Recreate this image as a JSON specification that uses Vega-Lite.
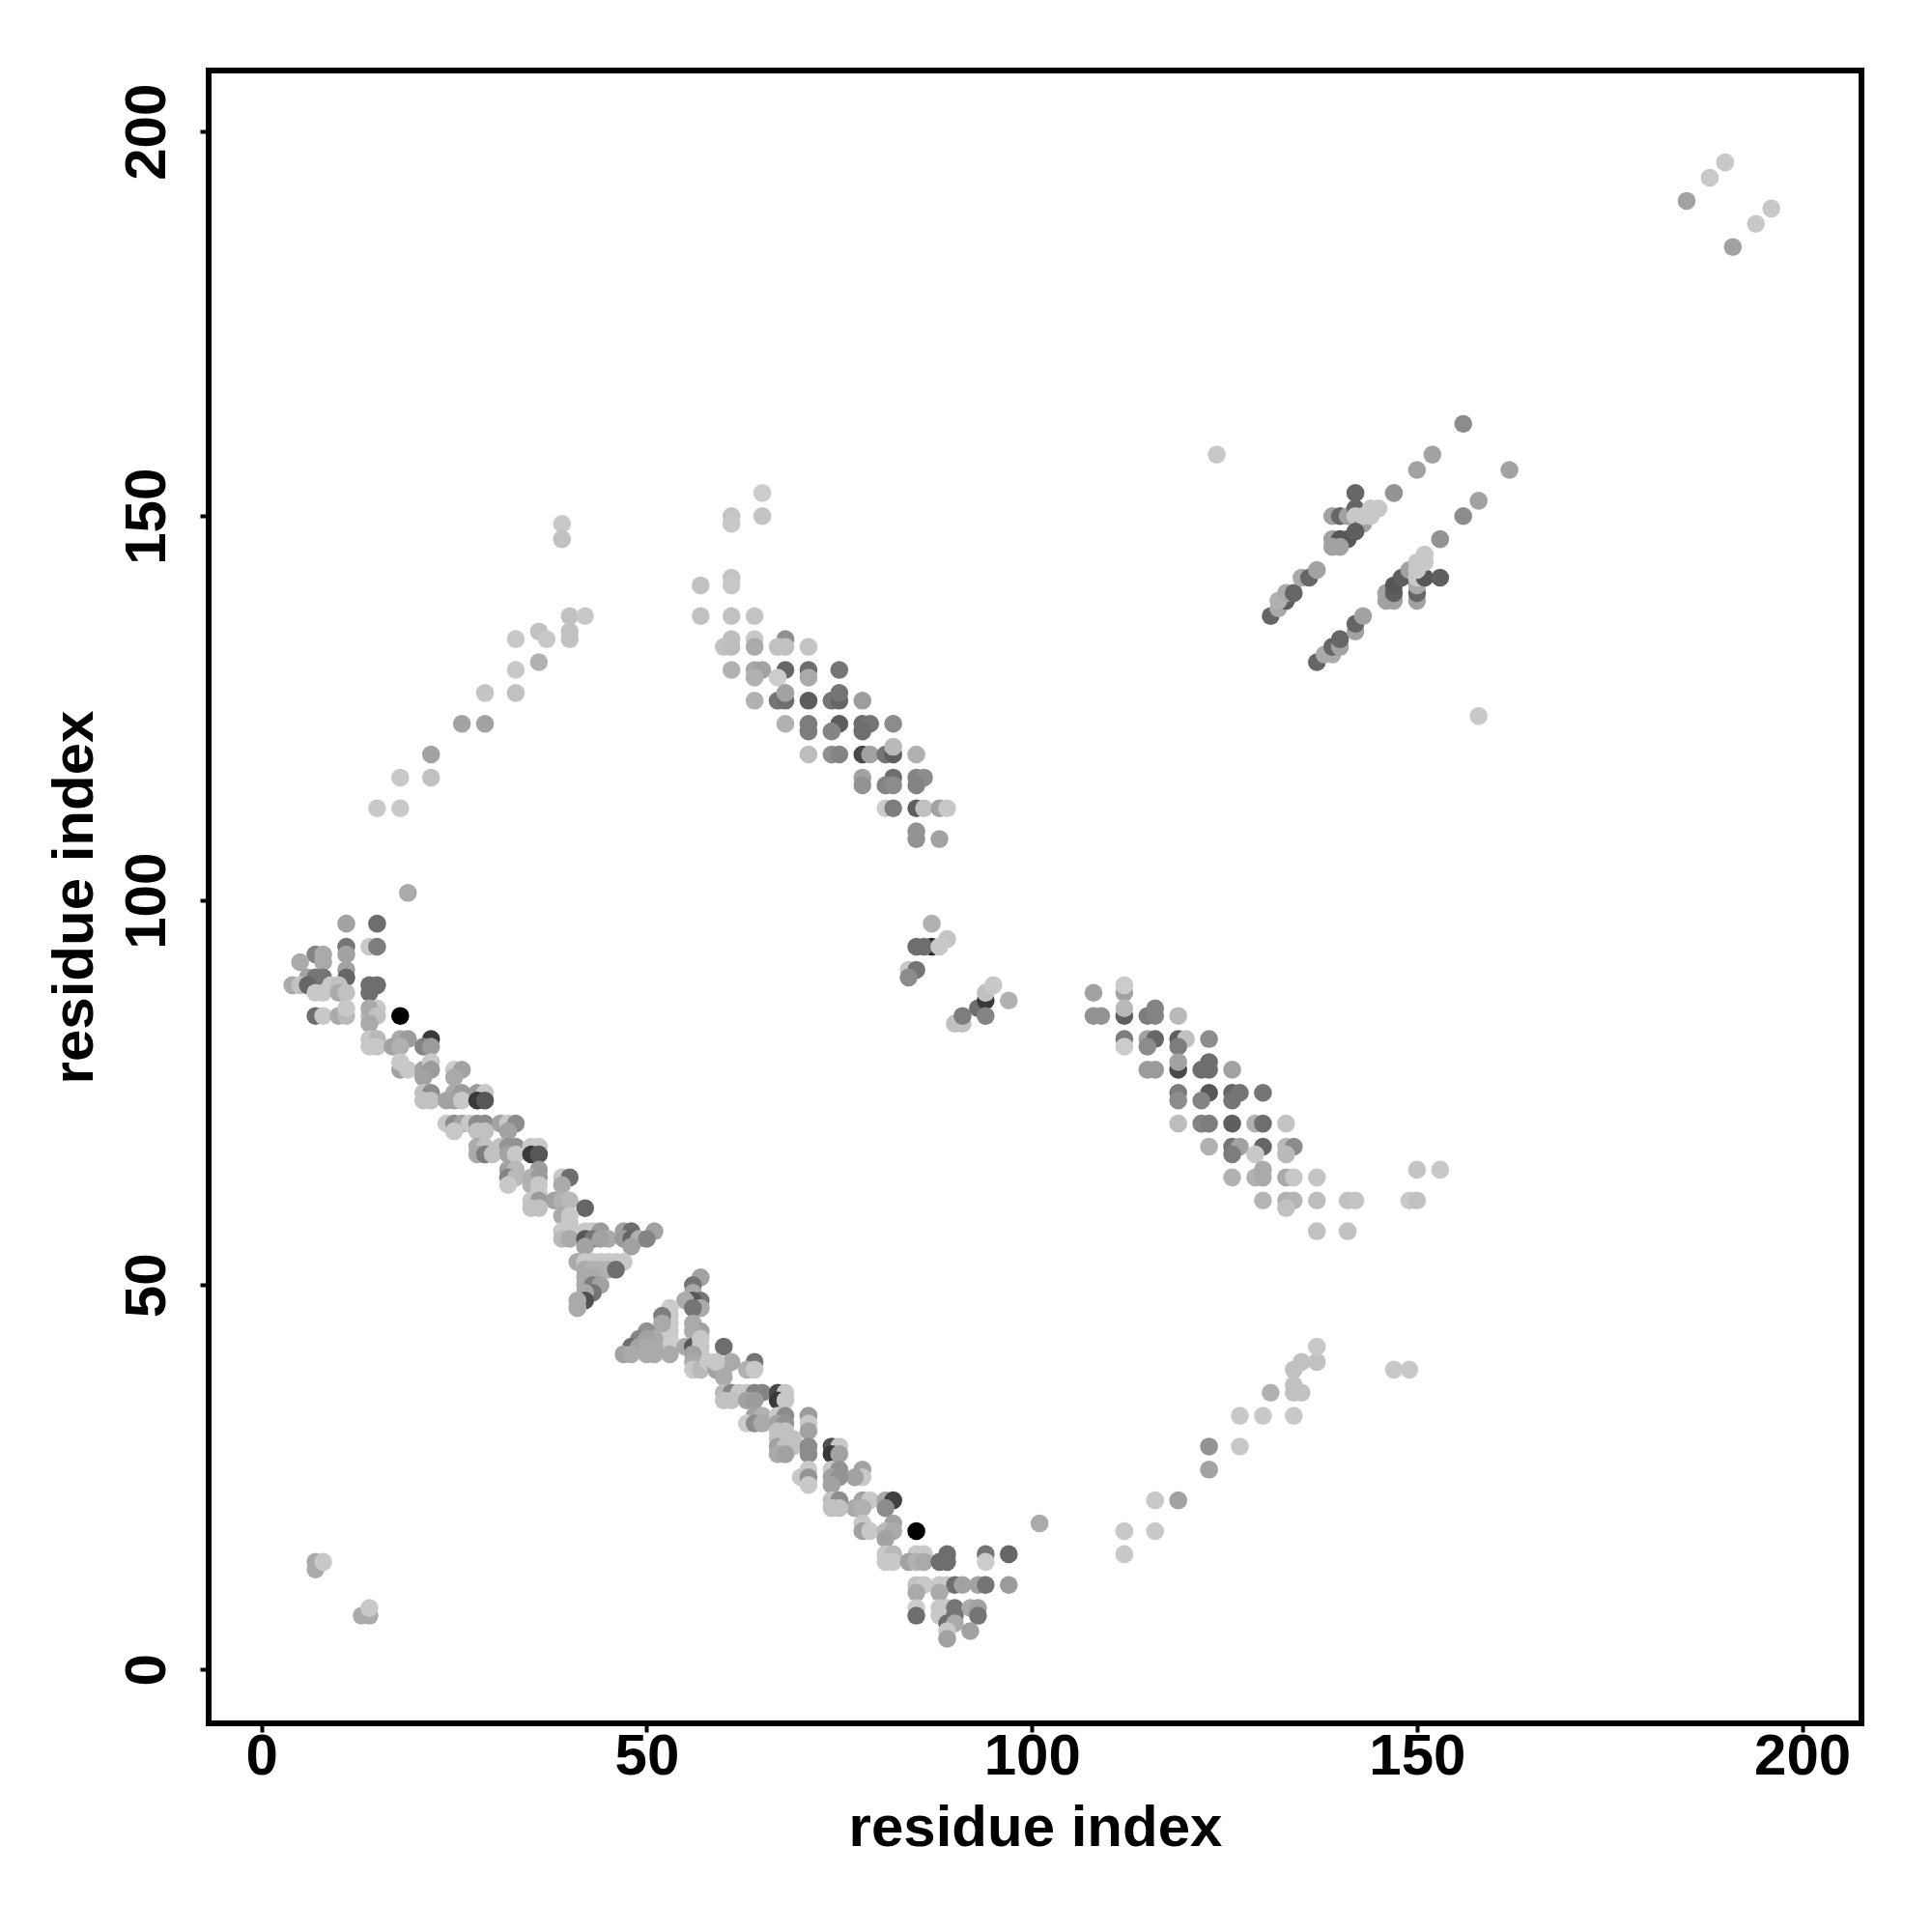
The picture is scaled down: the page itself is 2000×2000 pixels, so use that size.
{"$schema":"https://vega.github.io/schema/vega-lite/v6.json","width":1711,"height":1711,"autosize":"none","padding":{"left":216,"top":73,"right":73,"bottom":216},"background":"white","view":{"stroke":"black","strokeWidth":6,"fill":"white"},"data":{"values":[
{"x":65,"y":153,"s":204},{"x":65,"y":150,"s":196},{"x":61,"y":150,"s":196},{"x":61,"y":149,"s":200},{"x":61,"y":142,"s":196},{"x":61,"y":141,"s":200},{"x":57,"y":141,"s":192},{"x":57,"y":137,"s":192},{"x":61,"y":137,"s":192},{"x":64,"y":137,"s":196},
{"x":61,"y":134,"s":188},{"x":64,"y":134,"s":200},{"x":68,"y":134,"s":140},{"x":60,"y":133,"s":192},{"x":61,"y":133,"s":188},{"x":64,"y":133,"s":168},{"x":67,"y":133,"s":192},{"x":68,"y":133,"s":192},{"x":71,"y":133,"s":196},
{"x":61,"y":130,"s":176},{"x":64,"y":130,"s":168},{"x":65,"y":130,"s":160},{"x":68,"y":130,"s":96},{"x":71,"y":130,"s":104},{"x":75,"y":130,"s":112},{"x":64,"y":129,"s":176},{"x":67,"y":129,"s":204},{"x":71,"y":129,"s":168},
{"x":64,"y":126,"s":176},{"x":67,"y":126,"s":112},{"x":68,"y":126,"s":104},{"x":71,"y":126,"s":85},{"x":74,"y":126,"s":112},{"x":75,"y":126,"s":96},{"x":78,"y":126,"s":154},{"x":68,"y":127,"s":160},{"x":75,"y":127,"s":112},
{"x":68,"y":123,"s":176},{"x":71,"y":123,"s":120},{"x":75,"y":123,"s":85},{"x":78,"y":123,"s":104},{"x":79,"y":123,"s":112},{"x":82,"y":123,"s":136},{"x":71,"y":122,"s":120},{"x":74,"y":122,"s":128},{"x":78,"y":122,"s":104},
{"x":71,"y":119,"s":188},{"x":74,"y":119,"s":140},{"x":75,"y":119,"s":128},{"x":78,"y":119,"s":64},{"x":79,"y":119,"s":160},{"x":81,"y":119,"s":112},{"x":82,"y":119,"s":88},{"x":85,"y":119,"s":176},{"x":82,"y":120,"s":184},
{"x":78,"y":116,"s":160},{"x":82,"y":116,"s":104},{"x":85,"y":116,"s":128},{"x":86,"y":116,"s":136},{"x":78,"y":115,"s":144},{"x":81,"y":115,"s":128},{"x":82,"y":115,"s":136},{"x":85,"y":115,"s":128},
{"x":81,"y":112,"s":204},{"x":82,"y":112,"s":120},{"x":85,"y":112,"s":88},{"x":86,"y":112,"s":192},{"x":88,"y":112,"s":160},{"x":89,"y":112,"s":200},{"x":85,"y":109,"s":144},{"x":85,"y":108,"s":144},{"x":88,"y":108,"s":160},
{"x":108,"y":88,"s":160},{"x":112,"y":88,"s":160},{"x":112,"y":89,"s":204},{"x":108,"y":85,"s":144},{"x":109,"y":85,"s":144},{"x":112,"y":85,"s":88},{"x":115,"y":85,"s":120},{"x":116,"y":85,"s":128},{"x":119,"y":85,"s":184},{"x":112,"y":86,"s":184},{"x":116,"y":86,"s":128},
{"x":112,"y":82,"s":120},{"x":115,"y":82,"s":160},{"x":116,"y":82,"s":96},{"x":119,"y":82,"s":88},{"x":120,"y":82,"s":192},{"x":123,"y":82,"s":136},{"x":112,"y":81,"s":204},{"x":115,"y":81,"s":136},{"x":119,"y":81,"s":120},
{"x":115,"y":78,"s":152},{"x":116,"y":78,"s":152},{"x":119,"y":78,"s":64},{"x":122,"y":78,"s":104},{"x":123,"y":78,"s":104},{"x":126,"y":78,"s":160},{"x":119,"y":79,"s":160},{"x":123,"y":79,"s":104},
{"x":119,"y":75,"s":120},{"x":123,"y":75,"s":80},{"x":126,"y":75,"s":96},{"x":127,"y":75,"s":112},{"x":130,"y":75,"s":112},{"x":119,"y":74,"s":136},{"x":122,"y":74,"s":128},{"x":126,"y":74,"s":112},
{"x":119,"y":71,"s":188},{"x":122,"y":71,"s":128},{"x":123,"y":71,"s":120},{"x":126,"y":71,"s":88},{"x":129,"y":71,"s":176},{"x":130,"y":71,"s":104},{"x":133,"y":71,"s":196},
{"x":123,"y":68,"s":176},{"x":126,"y":68,"s":112},{"x":127,"y":68,"s":160},{"x":130,"y":68,"s":96},{"x":133,"y":68,"s":184},{"x":134,"y":68,"s":136},{"x":126,"y":67,"s":120},{"x":129,"y":67,"s":200},{"x":133,"y":67,"s":184},
{"x":126,"y":64,"s":176},{"x":129,"y":64,"s":176},{"x":130,"y":64,"s":168},{"x":133,"y":64,"s":168},{"x":134,"y":64,"s":200},{"x":137,"y":64,"s":196},{"x":130,"y":65,"s":168},
{"x":130,"y":61,"s":180},{"x":133,"y":61,"s":176},{"x":134,"y":61,"s":180},{"x":137,"y":61,"s":188},{"x":141,"y":61,"s":192},{"x":142,"y":61,"s":196},{"x":149,"y":61,"s":200},{"x":150,"y":61,"s":192},{"x":133,"y":60,"s":192},{"x":150,"y":65,"s":196},{"x":153,"y":65,"s":200},{"x":137,"y":57,"s":192},{"x":141,"y":57,"s":192},
{"x":131,"y":137,"s":96},{"x":132,"y":138,"s":168},{"x":133,"y":139,"s":88},{"x":132,"y":139,"s":176},{"x":133,"y":140,"s":168},{"x":134,"y":140,"s":96},{"x":135,"y":142,"s":168},{"x":136,"y":142,"s":96},{"x":137,"y":143,"s":160},
{"x":137,"y":131,"s":96},{"x":138,"y":132,"s":168},{"x":139,"y":132,"s":168},{"x":139,"y":133,"s":96},{"x":140,"y":133,"s":160},{"x":140,"y":134,"s":96},{"x":142,"y":135,"s":160},{"x":142,"y":136,"s":96},{"x":143,"y":137,"s":160},
{"x":146,"y":139,"s":160},{"x":147,"y":139,"s":160},{"x":146,"y":140,"s":160},{"x":147,"y":140,"s":88},{"x":147,"y":141,"s":80},{"x":148,"y":142,"s":88},{"x":149,"y":143,"s":160},{"x":150,"y":139,"s":160},{"x":150,"y":140,"s":96},{"x":150,"y":141,"s":168},{"x":150,"y":142,"s":200},{"x":151,"y":142,"s":80},{"x":153,"y":142,"s":88},{"x":150,"y":143,"s":200},{"x":150,"y":144,"s":200},{"x":151,"y":144,"s":200},{"x":151,"y":145,"s":200},
{"x":153,"y":147,"s":144},{"x":156,"y":150,"s":136},{"x":158,"y":152,"s":160},{"x":162,"y":156,"s":160},{"x":142,"y":153,"s":96},{"x":147,"y":153,"s":144},{"x":150,"y":156,"s":160},{"x":152,"y":158,"s":160},{"x":156,"y":162,"s":136},
{"x":139,"y":150,"s":160},{"x":140,"y":150,"s":96},{"x":141,"y":150,"s":160},{"x":142,"y":151,"s":96},{"x":142,"y":150,"s":200},{"x":143,"y":149,"s":160},{"x":143,"y":150,"s":200},{"x":144,"y":150,"s":200},{"x":144,"y":151,"s":200},{"x":145,"y":151,"s":200},
{"x":139,"y":147,"s":160},{"x":140,"y":147,"s":80},{"x":141,"y":147,"s":80},{"x":142,"y":148,"s":88},{"x":139,"y":146,"s":160},{"x":140,"y":146,"s":160},
{"x":39,"y":149,"s":200},{"x":39,"y":147,"s":192},{"x":36,"y":135,"s":192},{"x":37,"y":134,"s":200},{"x":33,"y":134,"s":200},{"x":36,"y":131,"s":176},{"x":40,"y":135,"s":192},{"x":40,"y":134,"s":192},{"x":40,"y":137,"s":192},{"x":42,"y":137,"s":200},
{"x":29,"y":127,"s":196},{"x":33,"y":130,"s":200},{"x":33,"y":127,"s":192},{"x":26,"y":123,"s":160},{"x":29,"y":123,"s":160},{"x":22,"y":119,"s":160},{"x":22,"y":116,"s":192},{"x":18,"y":116,"s":200},{"x":15,"y":112,"s":200},{"x":18,"y":112,"s":200},{"x":19,"y":101,"s":168},
{"x":185,"y":191,"s":160},{"x":188,"y":194,"s":200},{"x":190,"y":196,"s":200},{"x":196,"y":190,"s":200},{"x":194,"y":188,"s":200},{"x":191,"y":185,"s":160},{"x":124,"y":158,"s":200},{"x":158,"y":124,"s":200},
{"x":101,"y":19,"s":168},{"x":112,"y":18,"s":200},{"x":112,"y":15,"s":200},{"x":116,"y":22,"s":200},{"x":116,"y":18,"s":200},{"x":119,"y":22,"s":160},{"x":123,"y":29,"s":144},{"x":123,"y":26,"s":160},{"x":127,"y":29,"s":200},{"x":127,"y":33,"s":200},{"x":130,"y":33,"s":200},{"x":131,"y":36,"s":176},{"x":134,"y":36,"s":192},{"x":134,"y":39,"s":192},{"x":135,"y":40,"s":192},{"x":137,"y":40,"s":192},{"x":137,"y":42,"s":200},{"x":134,"y":37,"s":192},{"x":135,"y":36,"s":192},{"x":134,"y":33,"s":200},{"x":147,"y":39,"s":200},{"x":149,"y":39,"s":200},
{"x":7,"y":14,"s":168},{"x":7,"y":13,"s":168},{"x":8,"y":14,"s":200},{"x":13,"y":7,"s":168},{"x":14,"y":7,"s":168},{"x":14,"y":8,"s":200},
{"x":87,"y":97,"s":176},{"x":85,"y":94,"s":104},{"x":87,"y":94,"s":32},{"x":86,"y":94,"s":104},{"x":89,"y":95,"s":196},{"x":88,"y":94,"s":200},{"x":84,"y":91,"s":200},{"x":85,"y":91,"s":112},{"x":84,"y":90,"s":136},
{"x":90,"y":84,"s":192},{"x":91,"y":84,"s":192},{"x":91,"y":85,"s":120},{"x":93,"y":86,"s":104},{"x":94,"y":87,"s":48},{"x":94,"y":85,"s":128},{"x":94,"y":88,"s":192},{"x":95,"y":89,"s":200},{"x":97,"y":87,"s":176},
{"x":78,"y":26,"s":160},{"x":78,"y":25,"s":200},{"x":77,"y":25,"s":160},{"x":78,"y":22,"s":160},{"x":79,"y":22,"s":200},{"x":81,"y":22,"s":168},{"x":82,"y":22,"s":56},{"x":77,"y":21,"s":168},{"x":78,"y":21,"s":176},{"x":81,"y":21,"s":136},
{"x":82,"y":19,"s":160},{"x":78,"y":19,"s":200},{"x":78,"y":18,"s":160},{"x":79,"y":18,"s":200},{"x":81,"y":18,"s":184},{"x":82,"y":18,"s":168},{"x":81,"y":17,"s":160},{"x":85,"y":18,"s":0},
{"x":81,"y":15,"s":200},{"x":82,"y":15,"s":184},{"x":85,"y":15,"s":200},{"x":86,"y":15,"s":200},{"x":89,"y":15,"s":104},{"x":94,"y":15,"s":112},{"x":97,"y":15,"s":96},{"x":81,"y":14,"s":200},{"x":82,"y":14,"s":200},{"x":84,"y":14,"s":160},{"x":85,"y":14,"s":176},{"x":86,"y":14,"s":168},{"x":88,"y":14,"s":104},{"x":89,"y":14,"s":104},{"x":94,"y":14,"s":204},
{"x":85,"y":11,"s":192},{"x":86,"y":11,"s":200},{"x":88,"y":11,"s":200},{"x":89,"y":11,"s":200},{"x":90,"y":11,"s":104},{"x":91,"y":11,"s":160},{"x":93,"y":11,"s":160},{"x":94,"y":11,"s":112},{"x":97,"y":11,"s":152},{"x":85,"y":10,"s":168},{"x":88,"y":10,"s":168},
{"x":85,"y":8,"s":204},{"x":88,"y":8,"s":200},{"x":89,"y":8,"s":200},{"x":90,"y":8,"s":112},{"x":92,"y":8,"s":168},{"x":93,"y":8,"s":160},{"x":85,"y":7,"s":104},{"x":88,"y":7,"s":200},{"x":90,"y":7,"s":112},{"x":93,"y":7,"s":112},{"x":89,"y":6,"s":104},{"x":90,"y":6,"s":168},{"x":92,"y":5,"s":160},{"x":89,"y":5,"s":200},{"x":89,"y":4,"s":160},
{"x":11,"y":97,"s":160},{"x":15,"y":97,"s":104},{"x":11,"y":94,"s":112},{"x":14,"y":94,"s":200},{"x":15,"y":94,"s":120},{"x":11,"y":93,"s":160},{"x":7,"y":93,"s":128},{"x":8,"y":93,"s":168},{"x":8,"y":92,"s":168},{"x":5,"y":92,"s":168},{"x":11,"y":91,"s":160},{"x":11,"y":90,"s":96},{"x":6,"y":90,"s":160},{"x":7,"y":90,"s":112},{"x":8,"y":90,"s":112},
{"x":4,"y":89,"s":168},{"x":5,"y":89,"s":192},{"x":6,"y":89,"s":96},{"x":9,"y":89,"s":200},{"x":10,"y":89,"s":192},{"x":14,"y":89,"s":104},{"x":15,"y":89,"s":104},{"x":7,"y":88,"s":200},{"x":8,"y":88,"s":200},{"x":10,"y":88,"s":168},{"x":11,"y":88,"s":192},{"x":14,"y":88,"s":104},
{"x":7,"y":85,"s":104},{"x":8,"y":85,"s":200},{"x":10,"y":85,"s":168},{"x":11,"y":85,"s":184},{"x":11,"y":86,"s":200},{"x":14,"y":85,"s":184},{"x":15,"y":86,"s":200},{"x":14,"y":86,"s":168},{"x":15,"y":85,"s":192},{"x":18,"y":85,"s":0},{"x":14,"y":84,"s":168},
{"x":14,"y":82,"s":200},{"x":15,"y":82,"s":184},{"x":18,"y":82,"s":168},{"x":19,"y":82,"s":152},{"x":22,"y":82,"s":48},{"x":14,"y":81,"s":200},{"x":15,"y":81,"s":200},{"x":17,"y":81,"s":160},{"x":18,"y":81,"s":176},{"x":21,"y":81,"s":128},{"x":22,"y":81,"s":152},
{"x":18,"y":78,"s":160},{"x":19,"y":78,"s":200},{"x":21,"y":78,"s":160},{"x":22,"y":79,"s":200},{"x":22,"y":78,"s":152},{"x":18,"y":79,"s":200},{"x":21,"y":77,"s":160},{"x":25,"y":78,"s":204},{"x":26,"y":78,"s":160},{"x":25,"y":77,"s":168},
{"x":21,"y":75,"s":192},{"x":22,"y":75,"s":136},{"x":25,"y":75,"s":168},{"x":26,"y":75,"s":152},{"x":28,"y":75,"s":152},{"x":29,"y":75,"s":200},{"x":21,"y":74,"s":192},{"x":22,"y":74,"s":192},{"x":24,"y":74,"s":160},{"x":25,"y":74,"s":160},{"x":26,"y":74,"s":200},{"x":28,"y":74,"s":48},{"x":29,"y":74,"s":80},
{"x":24,"y":71,"s":200},{"x":25,"y":71,"s":136},{"x":26,"y":71,"s":160},{"x":27,"y":71,"s":200},{"x":28,"y":71,"s":136},{"x":29,"y":71,"s":136},{"x":31,"y":71,"s":160},{"x":32,"y":71,"s":200},{"x":33,"y":71,"s":136},{"x":25,"y":70,"s":200},{"x":28,"y":70,"s":192},{"x":29,"y":70,"s":192},{"x":32,"y":70,"s":160},
{"x":28,"y":68,"s":168},{"x":29,"y":68,"s":192},{"x":31,"y":68,"s":192},{"x":32,"y":68,"s":144},{"x":33,"y":68,"s":144},{"x":35,"y":68,"s":200},{"x":36,"y":68,"s":200},{"x":28,"y":67,"s":168},{"x":29,"y":67,"s":120},{"x":30,"y":67,"s":192},{"x":32,"y":67,"s":160},{"x":33,"y":67,"s":200},{"x":35,"y":67,"s":48},{"x":36,"y":67,"s":80},
{"x":32,"y":65,"s":160},{"x":33,"y":65,"s":184},{"x":36,"y":65,"s":152},{"x":32,"y":64,"s":128},{"x":33,"y":64,"s":184},{"x":35,"y":64,"s":176},{"x":36,"y":64,"s":152},{"x":39,"y":64,"s":200},{"x":40,"y":64,"s":104},{"x":32,"y":63,"s":200},{"x":35,"y":63,"s":176},{"x":36,"y":63,"s":200},{"x":39,"y":63,"s":168},
{"x":35,"y":61,"s":200},{"x":36,"y":62,"s":200},{"x":36,"y":61,"s":152},{"x":38,"y":61,"s":160},{"x":39,"y":61,"s":176},{"x":40,"y":61,"s":184},{"x":35,"y":60,"s":192},{"x":36,"y":60,"s":192},{"x":42,"y":60,"s":96},{"x":39,"y":59,"s":168},{"x":40,"y":59,"s":200},
{"x":39,"y":57,"s":200},{"x":40,"y":58,"s":200},{"x":40,"y":57,"s":200},{"x":42,"y":57,"s":200},{"x":43,"y":57,"s":200},{"x":44,"y":57,"s":152},{"x":45,"y":56,"s":168},{"x":47,"y":57,"s":160},{"x":48,"y":57,"s":104},{"x":51,"y":57,"s":160},
{"x":39,"y":56,"s":184},{"x":40,"y":56,"s":168},{"x":42,"y":56,"s":80},{"x":43,"y":56,"s":112},{"x":44,"y":56,"s":160},{"x":47,"y":56,"s":152},{"x":48,"y":56,"s":96},{"x":49,"y":56,"s":176},{"x":50,"y":56,"s":128},{"x":42,"y":55,"s":160},{"x":48,"y":55,"s":160},
{"x":41,"y":53,"s":168},{"x":42,"y":53,"s":200},{"x":43,"y":53,"s":200},{"x":44,"y":53,"s":200},{"x":45,"y":53,"s":200},{"x":46,"y":53,"s":200},{"x":47,"y":53,"s":200},{"x":42,"y":52,"s":168},{"x":43,"y":52,"s":176},{"x":44,"y":52,"s":176},{"x":45,"y":52,"s":176},{"x":46,"y":52,"s":104},
{"x":42,"y":51,"s":168},{"x":43,"y":51,"s":168},{"x":42,"y":50,"s":168},{"x":43,"y":50,"s":120},{"x":44,"y":50,"s":160},{"x":43,"y":49,"s":112},{"x":42,"y":49,"s":168},{"x":42,"y":48,"s":72},{"x":41,"y":48,"s":168},{"x":41,"y":47,"s":168},
{"x":57,"y":51,"s":160},{"x":56,"y":50,"s":112},{"x":56,"y":49,"s":168},{"x":57,"y":48,"s":112},{"x":56,"y":48,"s":80},{"x":55,"y":48,"s":168},{"x":57,"y":47,"s":168},{"x":56,"y":47,"s":112},
{"x":53,"y":47,"s":204},{"x":53,"y":46,"s":204},{"x":53,"y":45,"s":204},{"x":53,"y":44,"s":204},{"x":53,"y":43,"s":204},{"x":53,"y":42,"s":204},{"x":53,"y":41,"s":168},{"x":52,"y":46,"s":120},{"x":52,"y":45,"s":168},{"x":50,"y":44,"s":144},{"x":51,"y":43,"s":168},{"x":49,"y":43,"s":128},{"x":50,"y":43,"s":160},{"x":48,"y":42,"s":104},{"x":49,"y":42,"s":160},{"x":50,"y":42,"s":168},{"x":51,"y":42,"s":168},{"x":47,"y":41,"s":160},{"x":48,"y":41,"s":168},{"x":50,"y":41,"s":168},{"x":51,"y":41,"s":168},
{"x":56,"y":45,"s":168},{"x":57,"y":44,"s":160},{"x":56,"y":44,"s":168},{"x":55,"y":42,"s":168},{"x":56,"y":42,"s":80},{"x":57,"y":43,"s":200},{"x":57,"y":42,"s":200},{"x":57,"y":41,"s":200},{"x":56,"y":41,"s":160},{"x":60,"y":42,"s":104},{"x":64,"y":40,"s":112},
{"x":56,"y":40,"s":168},{"x":56,"y":39,"s":200},{"x":57,"y":39,"s":184},{"x":58,"y":40,"s":200},{"x":59,"y":39,"s":160},{"x":60,"y":39,"s":168},{"x":61,"y":40,"s":168},{"x":59,"y":40,"s":200},{"x":63,"y":39,"s":176},{"x":64,"y":39,"s":200},{"x":60,"y":38,"s":168},
{"x":60,"y":36,"s":184},{"x":61,"y":36,"s":128},{"x":62,"y":36,"s":200},{"x":63,"y":36,"s":200},{"x":64,"y":36,"s":128},{"x":65,"y":36,"s":128},{"x":67,"y":36,"s":64},{"x":68,"y":36,"s":200},{"x":60,"y":35,"s":192},{"x":61,"y":35,"s":192},{"x":63,"y":35,"s":160},{"x":64,"y":35,"s":152},{"x":67,"y":35,"s":48},{"x":68,"y":35,"s":200},
{"x":64,"y":33,"s":160},{"x":65,"y":33,"s":176},{"x":67,"y":33,"s":200},{"x":68,"y":33,"s":136},{"x":71,"y":33,"s":152},{"x":63,"y":32,"s":204},{"x":64,"y":32,"s":136},{"x":65,"y":32,"s":168},{"x":67,"y":32,"s":160},{"x":68,"y":32,"s":144},{"x":71,"y":32,"s":200},{"x":67,"y":31,"s":192},{"x":68,"y":31,"s":192},{"x":71,"y":31,"s":160},{"x":67,"y":30,"s":192},{"x":69,"y":30,"s":192},{"x":68,"y":30,"s":192},
{"x":67,"y":29,"s":160},{"x":68,"y":29,"s":192},{"x":69,"y":29,"s":192},{"x":71,"y":29,"s":136},{"x":74,"y":29,"s":72},{"x":75,"y":29,"s":200},{"x":67,"y":28,"s":168},{"x":68,"y":28,"s":160},{"x":71,"y":28,"s":136},{"x":74,"y":28,"s":48},{"x":75,"y":28,"s":160},
{"x":71,"y":26,"s":200},{"x":74,"y":26,"s":200},{"x":75,"y":26,"s":144},{"x":70,"y":25,"s":200},{"x":71,"y":25,"s":144},{"x":74,"y":25,"s":160},{"x":75,"y":25,"s":144},{"x":71,"y":24,"s":200},{"x":74,"y":24,"s":160},{"x":74,"y":22,"s":192},{"x":75,"y":22,"s":136},{"x":74,"y":21,"s":192},{"x":75,"y":21,"s":192}
]},"mark":{"type":"point","filled":true,"opacity":1,"size":345,"clip":true},"encoding":{"x":{"field":"x","type":"quantitative","scale":{"domain":[-6.87,207.7],"nice":false,"zero":false},"axis":{"values":[0,50,100,150,200],"grid":false,"domain":false,"tickColor":"black","tickWidth":4,"tickSize":9,"labelFont":"Liberation Sans","labelFontWeight":"bold","labelFontSize":60,"labelColor":"black","labelPadding":-4,"labelFlush":false,"title":"residue index","titleFont":"Liberation Sans","titleFontWeight":"bold","titleFontSize":60,"titleColor":"black","titlePadding":15}},"y":{"field":"y","type":"quantitative","scale":{"domain":[-7,207.95],"nice":false,"zero":false},"axis":{"values":[0,50,100,150,200],"grid":false,"domain":false,"tickColor":"black","tickWidth":4,"tickSize":9,"labelFont":"Liberation Sans","labelFontWeight":"bold","labelFontSize":60,"labelColor":"black","labelAngle":-90,"labelAlign":"center","labelBaseline":"bottom","labelPadding":24,"title":"residue index","titleFont":"Liberation Sans","titleFontWeight":"bold","titleFontSize":60,"titleColor":"black","titlePadding":14}},"color":{"field":"s","type":"quantitative","scale":{"type":"pow","exponent":0.85,"domain":[0,204],"range":["#000000","#cccccc"]},"legend":null},"order":[{"field":"y","type":"quantitative"},{"field":"x","type":"quantitative"}]}}
